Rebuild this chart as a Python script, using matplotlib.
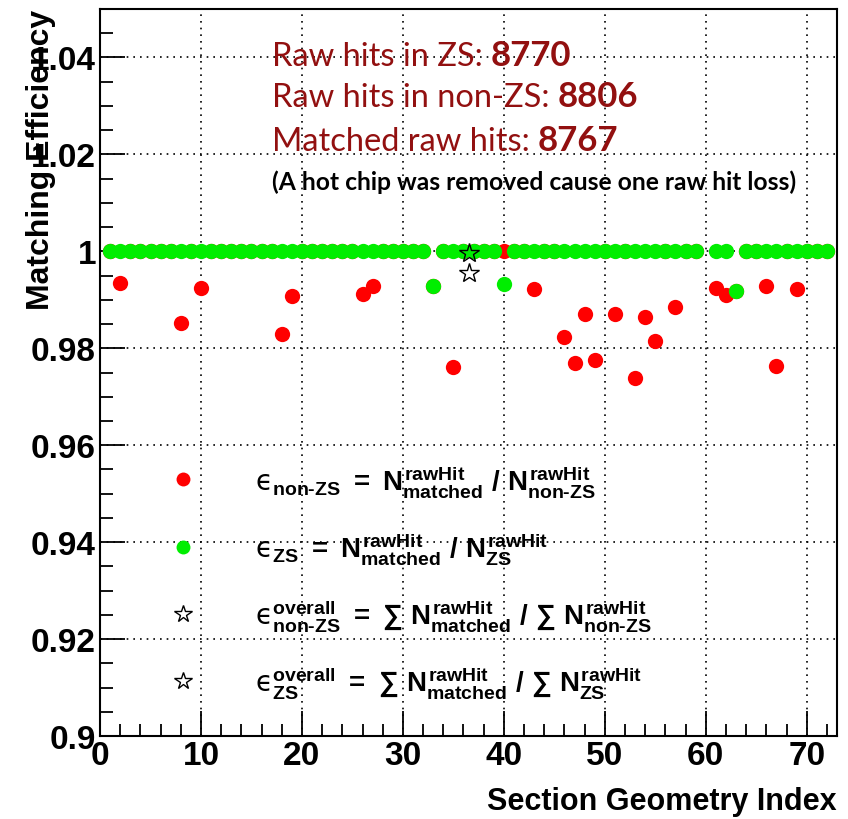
"""
Matching efficiency per section: ZS vs non-ZS raw hits.
"""
import matplotlib
matplotlib.use('Agg')
import matplotlib.pyplot as plt
from matplotlib.lines import Line2D
from matplotlib.ticker import MultipleLocator, FuncFormatter

plt.rcParams['font.family'] = ['Liberation Sans', 'DejaVu Sans']
plt.rcParams['mathtext.fontset'] = 'custom'
plt.rcParams['mathtext.rm'] = 'Liberation Sans:bold'
plt.rcParams['mathtext.it'] = 'Liberation Sans:bold'
plt.rcParams['mathtext.bf'] = 'Liberation Sans:bold'
plt.rcParams['mathtext.sf'] = 'Liberation Sans:bold'
plt.rcParams['mathtext.cal'] = 'DejaVu Sans'   # thin lunate epsilon
plt.rcParams['mathtext.fallback'] = 'cm'

# Data (section 60 has no entry)
sections = list(range(1, 60)) + list(range(61, 73))

eff_nonzs = [
    1.0, 0.9935, 1.0, 1.0, 1.0, 1.0, 1.0, 0.9852, 1.0, 0.9924,      # 1-10
    1.0, 1.0, 1.0, 1.0, 1.0, 1.0, 1.0, 0.9830, 0.9908, 1.0,         # 11-20
    1.0, 1.0, 1.0, 1.0, 1.0, 0.9912, 0.9928, 1.0, 1.0, 1.0,         # 21-30
    1.0, 1.0, 0.9928, 1.0, 0.9762, 1.0, 1.0, 1.0, 1.0, 1.0,         # 31-40
    1.0, 1.0, 0.9923, 1.0, 1.0, 0.9823, 0.9769, 0.9870, 0.9775, 1.0, # 41-50
    0.9870, 1.0, 0.9738, 0.9865, 0.9814, 1.0, 0.9885, 1.0, 1.0,     # 51-59
    0.9925, 0.9909, 0.9918, 1.0, 1.0, 0.9928, 0.9764, 1.0, 0.9923,  # 61-69
    1.0, 1.0, 1.0,                                                  # 70-72
]
eff_zs = [
    1.0, 1.0, 1.0, 1.0, 1.0, 1.0, 1.0, 1.0, 1.0, 1.0,
    1.0, 1.0, 1.0, 1.0, 1.0, 1.0, 1.0, 1.0, 1.0, 1.0,
    1.0, 1.0, 1.0, 1.0, 1.0, 1.0, 1.0, 1.0, 1.0, 1.0,
    1.0, 1.0, 0.9928, 1.0, 1.0, 1.0, 1.0, 1.0, 1.0, 0.9933,
    1.0, 1.0, 1.0, 1.0, 1.0, 1.0, 1.0, 1.0, 1.0, 1.0,
    1.0, 1.0, 1.0, 1.0, 1.0, 1.0, 1.0, 1.0, 1.0,
    1.0, 1.0, 0.9918, 1.0, 1.0, 1.0, 1.0, 1.0, 1.0,
    1.0, 1.0, 1.0,
]

# overall efficiencies, drawn at the middle of the x range
overall_x = [36.5, 36.5]
overall_eff = [0.9956, 0.9997]   # non-ZS, ZS

n_zs, n_nonzs, n_matched = 8770, 8806, 8767
y_ticks = [0.9, 0.92, 0.94, 0.96, 0.98, 1.0, 1.02, 1.04]

RED = '#ff0000'
GREEN = '#00ee00'
DARKRED = '#921010'

fig = plt.figure(figsize=(8.48, 8.2), dpi=100)
ax = fig.add_axes([0.118, 0.101, 0.869, 0.887])

ax.plot(sections, eff_nonzs, ls='none', marker='o', ms=11, mew=0,
        color=RED, zorder=3)
ax.plot(sections, eff_zs, ls='none', marker='o', ms=11, mew=0,
        color=GREEN, zorder=4)
ax.plot(overall_x, overall_eff, ls='none', marker='*', ms=15, mfc='none',
        mec='black', mew=1.0, zorder=5)

ax.set_xlim(0, 73)
ax.set_ylim(0.9, 1.05)
ax.set_yticks(y_ticks)
ax.xaxis.set_major_locator(MultipleLocator(10))
ax.xaxis.set_minor_locator(MultipleLocator(2))
ax.yaxis.set_minor_locator(MultipleLocator(0.005))
ax.yaxis.set_major_formatter(FuncFormatter(lambda v, p: f'{v:g}'))

ax.tick_params(which='both', direction='in', top=False, right=False,
               width=1.3, labelsize=24)
ax.tick_params(which='major', length=18, pad=3)
ax.tick_params(which='minor', length=9)
for lab in ax.get_xticklabels() + ax.get_yticklabels():
    lab.set_fontweight('bold')
for sp in ax.spines.values():
    sp.set_linewidth(1.5)

ax.grid(True, which='major', color='black', ls=(0, (1, 3)), lw=1.2)
ax.set_axisbelow(True)

ax.set_xlabel('Section Geometry Index', fontsize=22, fontweight='bold',
              loc='right')
ax.xaxis.set_label_coords(1.0, -0.068)
ax.set_ylabel('Matching Efficiency', fontsize=23, fontweight='bold',
              loc='top')
ax.yaxis.set_label_coords(-0.06, 1.0)

# Counts in the upper part
lines = [('Raw hits in ZS: ', n_zs, 0.935),
         ('Raw hits in non-ZS: ', n_nonzs, 0.879),
         ('Matched raw hits: ', n_matched, 0.818)]
for txt, num, yy in lines:
    t = ax.text(0.233, yy, txt, transform=ax.transAxes, fontsize=23.5,
                family=['Lato', 'DejaVu Sans'], color=DARKRED, va='center')
    ax.annotate(str(num), xy=(1, 0), xycoords=t, va='bottom', ha='left',
                fontsize=25, family=['Lato', 'DejaVu Sans'],
                fontweight='bold', color=DARKRED)
ax.text(0.233, 0.763, '(A hot chip was removed cause one raw hit loss)',
        transform=ax.transAxes, fontsize=17.7, family=['Lato', 'DejaVu Sans'],
        fontweight='bold', color='black', va='center')

# Formula legend
EPS = r'\mathcal{ϵ}'
handles = [
    Line2D([], [], ls='none', marker='o', ms=10, mew=0, color=RED),
    Line2D([], [], ls='none', marker='o', ms=10, mew=0, color=GREEN),
    Line2D([], [], ls='none', marker='*', ms=13, mfc='none', mec='black', mew=1.0),
    Line2D([], [], ls='none', marker='*', ms=13, mfc='none', mec='black', mew=1.0),
]
labels = [
    rf'${EPS}_{{\text{{non-ZS}}}}\ =\ N^{{\text{{rawHit}}}}_{{\text{{matched}}}}\ /\ N^{{\text{{rawHit}}}}_{{\text{{non-ZS}}}}$',
    rf'${EPS}_{{\text{{ZS}}}}\ =\ N^{{\text{{rawHit}}}}_{{\text{{matched}}}}\ /\ N^{{\text{{rawHit}}}}_{{\text{{ZS}}}}$',
    rf'${EPS}^{{\text{{overall}}}}_{{\text{{non-ZS}}}}\ =\ \sum\ N^{{\text{{rawHit}}}}_{{\text{{matched}}}}\ /\ \sum\ N^{{\text{{rawHit}}}}_{{\text{{non-ZS}}}}$',
    rf'${EPS}^{{\text{{overall}}}}_{{\text{{ZS}}}}\ =\ \sum\ N^{{\text{{rawHit}}}}_{{\text{{matched}}}}\ /\ \sum\ N^{{\text{{rawHit}}}}_{{\text{{ZS}}}}$',
]
ax.legend(handles, labels, loc='upper left', bbox_to_anchor=(0.094, 0.376),
          frameon=False, fontsize=20, handlelength=1.0, handletextpad=2.1,
          labelspacing=1.12, borderpad=0, borderaxespad=0)

fig.savefig('out.png', dpi=100)
